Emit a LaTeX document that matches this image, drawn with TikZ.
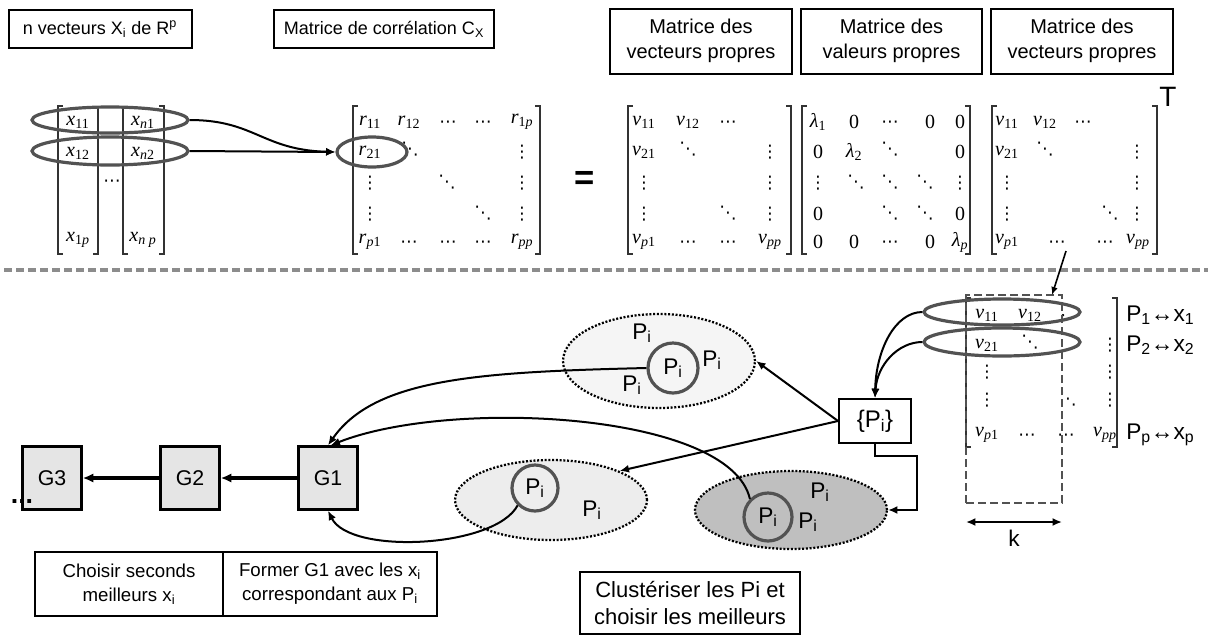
\documentclass[tikz,border=0pt]{standalone}
\usepackage{fontspec}
\setmainfont{Liberation Sans}
\newfontfamily\serif{Liberation Serif}
\newfontfamily\dejavu{DejaVu Sans}
\usetikzlibrary{shapes.geometric,arrows.meta}
\newcommand{\me}[2]{\textit{#1}\textsubscript{#2}}
\newcommand{\vd}{{\dejavu\fontsize{13}{13}\selectfont ⋮}}
\newcommand{\dd}{{\dejavu\fontsize{13}{13}\selectfont ⋱}}
\newcommand{\cd}{{\dejavu\fontsize{13}{13}\selectfont ⋯}}
\newcommand{\mbrk}[4]{%
  \draw[brk] (#1+5,#3) -| (#1,#4) -- (#1+5,#4);
  \draw[brk] (#2-5,#3) -| (#2,#4) -- (#2-5,#4);}
\begin{document}
\begin{tikzpicture}[x=0.75pt,y=-0.75pt,
  box/.style={draw, line width=1.5pt, fill=white, align=center, inner sep=0pt},
  ent/.style={font=\fontsize{15}{16}\selectfont\serif, inner sep=0pt},
  brk/.style={line width=0.8pt, draw=black!80},
  grp/.style={ellipse, draw=black!68, line width=2.4pt, inner sep=0pt},
  arr/.style={line width=1.5pt, -{Latex[length=7pt,width=6pt]}},
  clu/.style={ellipse, draw=black, line width=1.7pt, dash pattern={on 1.5pt off 1.3pt}, inner sep=0pt},
  circ/.style={circle, draw=black!68, line width=2.4pt, inner sep=0pt, font=\fontsize{17}{17}\selectfont},
  plab/.style={font=\fontsize{17}{17}\selectfont, inner sep=0pt},
  gbox/.style={draw, line width=1.8pt, fill=black!10, minimum width=59*0.75pt, minimum height=63*0.75pt, font=\fontsize{16}{16}\selectfont},
  garr/.style={line width=2.4pt, -{Latex[length=8pt,width=7pt]}},
]
\useasboundingbox (0,0) rectangle (1211,637);

% ---------- top boxes
\node[box, minimum width=183*0.75pt, minimum height=38*0.75pt, font=\fontsize{13.5}{16}\selectfont] (b1) at (100,29) {n vecteurs X\textsubscript{i} de R\textsuperscript{p}};
\node[box, minimum width=220*0.75pt, minimum height=38*0.75pt, font=\fontsize{13.5}{16}\selectfont] (b2) at (384,29) {Matrice de corrélation C\textsubscript{X}};
\node[box, minimum width=182*0.75pt, minimum height=65*0.75pt, font=\fontsize{15}{19}\selectfont] (b3) at (701,41) {Matrice des\\vecteurs propres};
\node[box, minimum width=181*0.75pt, minimum height=65*0.75pt, font=\fontsize{15}{19}\selectfont] (b4) at (891.5,41) {Matrice des\\valeurs propres};
\node[box, minimum width=182*0.75pt, minimum height=65*0.75pt, font=\fontsize{15}{19}\selectfont] (b5) at (1082,41) {Matrice des\\vecteurs propres};

% ---------- matrix X
\mbrk{58}{164}{106}{254}
\draw[brk] (98,108) -- (98,254) -- (93,254);
\draw[brk] (128,254) -- (123,254) -- (123,108);
\node[ent] (x11) at (78,122) {\me{x}{11}};
\node[ent] (xn1) at (143,122) {\me{x}{\textit{n}1}};
\node[ent] (x12) at (78,153) {\me{x}{12}};
\node[ent] (xn2) at (143,153) {\me{x}{\textit{n}2}};
\node[ent] (xd) at (112,183) {\cd};
\node[ent] (x1p) at (78,240) {\me{x}{1\textit{p}}};
\node[ent] (xnp) at (143,240) {\me{x}{\textit{n p}}};
\node[grp, minimum width=156*0.75pt, minimum height=26*0.75pt] (e1) at (110,120) {};
\node[grp, minimum width=156*0.75pt, minimum height=28*0.75pt] (e2) at (110,151) {};

% ---------- matrix R
\mbrk{353}{540}{106}{254}
\foreach \x/\y/\t/\n in {
  370/122/{\me{r}{11}}/r11, 409/122/{\me{r}{12}}/r12, 448/124/{\cd}/r13, 483/124/{\cd}/r14, 522/122/{\me{r}{1\textit{p}}}/r15,
  370/152/{\me{r}{21}}/r21, 410/149/{\dd}/r22, 522/152/{\vd}/r25,
  370/183/{\vd}/r31, 447/182/{\dd}/r33, 522/183/{\vd}/r35,
  370/214/{\vd}/r41, 483/213/{\dd}/r44, 522/214/{\vd}/r45,
  370/242/{\me{r}{\textit{p}1}}/r51, 409/244/{\cd}/r52, 448/244/{\cd}/r53, 483/244/{\cd}/r54, 522/242/{\me{r}{\textit{pp}}}/r55}
  \node[ent] (\n) at (\x,\y) {\t};
\node[grp, minimum width=70*0.75pt, minimum height=30*0.75pt] (er) at (372,152) {};
\draw[arr] (e1.east) .. controls (255,120) and (262,150) .. (er.west);
\draw[arr] (e2.east) -- (er.west);

\node[font=\fontsize{26}{26}\selectfont\bfseries] (eq) at (585,180) {=};

% ---------- matrix V
\mbrk{628}{791}{106}{254}
\foreach \x/\y/\t/\n in {
  644/122/{\me{v}{11}}/v11, 688/122/{\me{v}{12}}/v12, 728/124/{\cd}/v13,
  644/152/{\me{v}{21}}/v21, 688/149/{\dd}/v22, 770/152/{\vd}/v24,
  644/183/{\vd}/v31, 770/183/{\vd}/v34,
  644/214/{\vd}/v41, 728/213/{\dd}/v43, 770/214/{\vd}/v44,
  644/242/{\me{v}{\textit{p}1}}/v51, 688/244/{\cd}/v52, 728/244/{\cd}/v53, 770/242/{\me{v}{\textit{pp}}}/v54}
  \node[ent] (\n) at (\x,\y) {\t};

% ---------- matrix Lambda
\mbrk{802}{970}{106}{254}
\foreach \x/\y/\t/\n in {
  818/122/{\me{λ}{1}}/l11, 854/122/{0}/l12, 890/124/{\cd}/l13, 930/122/{0}/l14, 960/122/{0}/l15,
  818/152/{0}/l21, 854/152/{\me{λ}{2}}/l22, 890/149/{\dd}/l23, 960/152/{0}/l25,
  818/183/{\vd}/l31, 856/182/{\dd}/l32, 890/182/{\dd}/l33, 925/182/{\dd}/l34, 960/183/{\vd}/l35,
  818/214/{0}/l41, 890/213/{\dd}/l43, 925/213/{\dd}/l44, 960/214/{0}/l45,
  818/242/{0}/l51, 854/242/{0}/l52, 890/244/{\cd}/l53, 930/242/{0}/l54, 960/242/{\me{λ}{\textit{p}}}/l55}
  \node[ent] (\n) at (\x,\y) {\t};

% ---------- matrix V^T
\mbrk{992}{1157}{106}{254}
\foreach \x/\y/\t/\n in {
  1007/122/{\me{v}{11}}/w11, 1045/122/{\me{v}{12}}/w12, 1083/124/{\cd}/w13,
  1007/152/{\me{v}{21}}/w21, 1045/149/{\dd}/w22, 1137/152/{\vd}/w24,
  1007/183/{\vd}/w31, 1137/183/{\vd}/w34,
  1007/214/{\vd}/w41, 1110/213/{\dd}/w43, 1137/214/{\vd}/w44,
  1007/242/{\me{v}{\textit{p}1}}/w51, 1057/244/{\cd}/w52, 1105/244/{\cd}/w53, 1138/242/{\me{v}{\textit{pp}}}/w54}
  \node[ent] (\n) at (\x,\y) {\t};
\node[font=\fontsize{21}{21}\selectfont] (T) at (1168,97) {T};

% ---------- separator
\draw[draw=black!45, line width=3pt, dash pattern={on 6pt off 3pt}] (4,270) -- (1208,270);

% ---------- bottom-right matrix
\draw[brk] (971,298) -| (966,447) -- (971,447);
\draw[brk] (1112,298) -| (1117,447) -- (1112,447);
\foreach \x/\y/\t/\n in {
  987/315/{\me{v}{11}}/u11, 1030/315/{\me{v}{12}}/u12, 1063/316/{.}/u13,
  987/345/{\me{v}{21}}/u21, 1030/342/{\dd}/u22, 1110/345/{\vd}/u24,
  987/372/{\vd}/u31, 1110/372/{\vd}/u34,
  987/400/{\vd}/u41, 1068/399/{\dd}/u43, 1110/400/{\vd}/u44,
  987/435/{\me{v}{\textit{p}1}}/u51, 1027/437/{\cd}/u52, 1066/437/{\cd}/u53, 1105/435/{\me{v}{\textit{pp}}}/u54}
  \node[ent] (\n) at (\x,\y) {\t};
\node[draw=black!68, line width=1.9pt, dash pattern={on 6pt off 3pt}, minimum width=96*0.75pt, minimum height=208*0.75pt, inner sep=0pt] (K) at (1014,399) {};
\node[grp, minimum width=156*0.75pt, minimum height=26*0.75pt] (g1) at (1002,312) {};
\node[grp, minimum width=156*0.75pt, minimum height=28*0.75pt] (g2) at (1002,342) {};
\coordinate (vt) at (1066,251);
\coordinate (kt) at (1052,295);
\draw[line width=1.2pt, -{Latex[length=6pt,width=5pt]}] (vt) -- (kt);
\coordinate (k1) at (966,522);
\coordinate (k2) at (1062,522);
\draw[line width=1.5pt, {Latex[length=7pt,width=6pt]}-{Latex[length=7pt,width=6pt]}] (k1) -- (k2);
\node[plab] (klab) at (1014,538) {k};
\node[plab, anchor=west] (pl1) at (1126,315) {P\textsubscript{1}↔x\textsubscript{1}};
\node[plab, anchor=west] (pl2) at (1126,345) {P\textsubscript{2}↔x\textsubscript{2}};
\node[plab, anchor=west] (pl3) at (1126,435) {P\textsubscript{p}↔x\textsubscript{p}};

% ---------- {Pi}
\node[box, minimum width=72*0.75pt, minimum height=44*0.75pt, font=\fontsize{18}{18}\selectfont] (Ps) at (875,421) {\{P\textsubscript{i}\}};
\draw[arr] (g1.west) .. controls (895,312) and (876,350) .. (Ps.north);
\draw[arr] (g2.west) .. controls (898,342) and (877,365) .. (Ps.north);

% ---------- clusters
\node[clu, fill=black!4, minimum width=192*0.75pt, minimum height=94*0.75pt] (c1) at (659,361) {};
\node[circ, minimum size=50*0.75pt] (ci1) at (673,368) {P\textsubscript{i}};
\node[plab] (c1a) at (642,333) {P\textsubscript{i}};
\node[plab] (c1b) at (712,360) {P\textsubscript{i}};
\node[plab] (c1c) at (632,385) {P\textsubscript{i}};

\node[clu, fill=black!7, minimum width=192*0.75pt, minimum height=80*0.75pt] (c2) at (551,500) {};
\node[circ, minimum size=46*0.75pt] (ci2) at (535,488) {P\textsubscript{i}};
\node[plab] (c2a) at (592,510) {P\textsubscript{i}};

\node[clu, fill=black!25, minimum width=192*0.75pt, minimum height=78*0.75pt] (c3) at (791,510) {};
\node[circ, minimum size=48*0.75pt] (ci3) at (768,517) {P\textsubscript{i}};
\node[plab] (c3a) at (820,492) {P\textsubscript{i}};
\node[plab] (c3b) at (808,522) {P\textsubscript{i}};

\draw[arr] (Ps.west) -- (c1.east);
\draw[arr] (Ps.west) -- (c2.north east);
\draw[arr] (Ps.south) |- (917,456) |- (c3.east);

% ---------- G boxes
\node[gbox] (G1) at (328,478) {G1};
\node[gbox] (G2) at (190,478) {G2};
\node[gbox] (G3) at (52,478) {G3};
\node[font=\fontsize{20}{20}\selectfont\bfseries, inner sep=0pt] (dots) at (22,502) {...};
\draw[garr] (G1.west) -- (G2.east);
\draw[garr] (G2.west) -- (G3.east);

\draw[arr] (ci1.west) .. controls (480,372) and (375,378) .. (G1.north);
\draw[arr] (ci3.north west) .. controls (730,412) and (450,398) .. ([xshift=2pt]G1.north);
\draw[arr] (ci2.south west) .. controls (495,548) and (350,555) .. (G1.south);

% ---------- bottom boxes
\node[box, minimum width=188*0.75pt, minimum height=64*0.75pt, font=\fontsize{14}{18}\selectfont] (bb1) at (129,584) {Choisir seconds\\meilleurs x\textsubscript{i}};
\node[box, minimum width=214*0.75pt, minimum height=64*0.75pt, font=\fontsize{14}{18}\selectfont] (bb2) at (330,584) {Former G1 avec les x\textsubscript{i}\\correspondant aux P\textsubscript{i}};
\node[box, minimum width=220*0.75pt, minimum height=62*0.75pt, font=\fontsize{16.5}{20}\selectfont] (bb3) at (690,603) {Clustériser les Pi et\\choisir les meilleurs};
\end{tikzpicture}
\end{document}
